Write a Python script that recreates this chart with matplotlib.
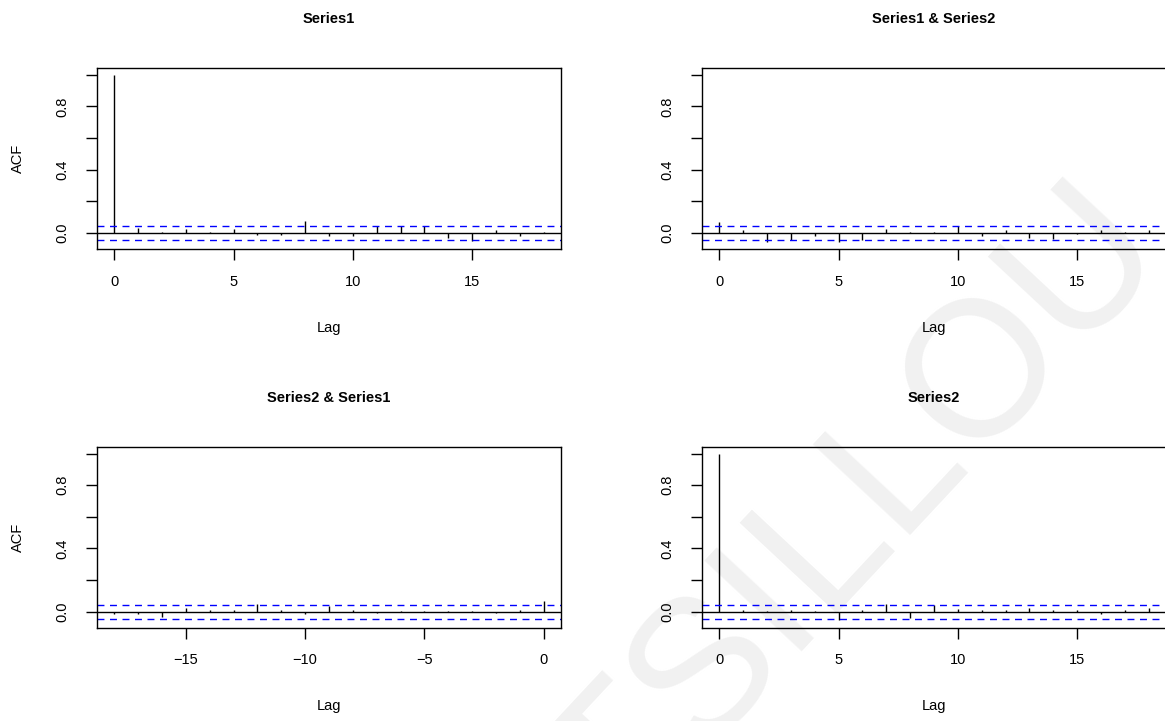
import numpy as np
import matplotlib
matplotlib.use("Agg")
import matplotlib.pyplot as plt

plt.rcParams['font.family'] = ['Liberation Sans', 'DejaVu Sans']
plt.rcParams['lines.scale_dashes'] = False

# estimated auto/cross correlations, lags 0..18
lags = np.arange(0, 19)
acf_s1 = [1.0, 0.032, 0.006, 0.025, 0.004, 0.025, -0.015, -0.013, 0.076, -0.019,
          -0.021, 0.042, 0.042, 0.042, -0.032, -0.050, 0.021, -0.021, 0.010]
acf_s1_s2 = [0.069, 0.021, -0.058, -0.044, -0.021, -0.055, -0.044, 0.025, 0.006, 0.006,
             0.042, -0.019, 0.021, -0.034, -0.036, -0.004, 0.019, 0.004, 0.021]
# lags -18..0
lags_neg = np.arange(-18, 1)
acf_s2_s1 = [-0.013, -0.013, -0.032, 0.021, 0.013, 0.013, 0.048, 0.013, -0.013, 0.038,
             0.013, -0.008, 0.004, 0.004, 0.004, 0.004, -0.008, 0.013, 0.069]
acf_s2 = [1.0, 0.013, 0.006, 0.013, 0.004, -0.053, 0.010, 0.048, -0.042, 0.044,
          0.019, 0.013, 0.008, 0.023, 0.013, 0.013, -0.015, 0.010, 0.021]

clim = 0.044
titles = ["Series1", "Series1 & Series2", "Series2 & Series1", "Series2"]

W, H = 1165, 721
fig = plt.figure(figsize=(W / 100, H / 100), dpi=100)

# watermark behind the panels
fig.text(0.737, 0.290, "TSILLOU", fontsize=139, color="#f1f1f1", rotation=47,
         rotation_mode="anchor", ha="center", va="center", zorder=-1)


def panel(left, right, top, bottom):
    ax = fig.add_axes([left / W, 1 - bottom / H, (right - left) / W, (bottom - top) / H])
    ax.set_facecolor("none")
    return ax


boxes = [(97, 561, 68, 249), (702, 1166, 68, 249),
         (97, 561, 447, 627.5), (702, 1166, 447, 627.5)]
data = [(lags, acf_s1), (lags, acf_s1_s2), (lags_neg, acf_s2_s1), (lags, acf_s2)]

lo = min(min(d[1]) for d in data + [(None, [-clim])])
hi = 1.0
pad = (hi - lo) * 0.04

for i, (box, (x, y), title) in enumerate(zip(boxes, data, titles)):
    ax = panel(*box)
    ax.vlines(x, 0, y, color="black", lw=1.0)
    ax.axhline(0, color="black", lw=1.0)
    ax.axhline(clim, color="#0000FF", lw=1.0, ls=(0, (5, 4)))
    ax.axhline(-clim, color="#0000FF", lw=1.0, ls=(0, (5, 4)))
    xmin, xmax = min(x), max(x)
    xp = (xmax - xmin) * 0.04
    ax.set_xlim(xmin - xp, xmax + xp)
    ax.set_ylim(lo - pad, hi + pad)
    if xmin < 0:
        ax.set_xticks([-15, -10, -5, 0])
        ax.set_xticklabels(["\u221215", "\u221210", "\u22125", "0"])
    else:
        ax.set_xticks([0, 5, 10, 15])
    ax.set_yticks([0, 0.2, 0.4, 0.6, 0.8, 1.0])
    ax.set_yticklabels(["0.0", "", "0.4", "", "0.8", ""], rotation=90, va="center")
    ax.tick_params(direction="out", length=8, width=1.0, labelsize=10.5, pad=12)
    ax.tick_params(axis="x", pad=10.5)
    for s in ax.spines.values():
        s.set_linewidth(1.0)
    ax.set_xlabel("Lag", fontsize=10.5, labelpad=23)
    if i in (0, 2):
        ax.set_ylabel("ACF", fontsize=10.5, labelpad=22)
    ax.set_title(title, fontsize=10.5, fontweight="bold", pad=32.5)

fig.savefig("out.png", dpi=100)
